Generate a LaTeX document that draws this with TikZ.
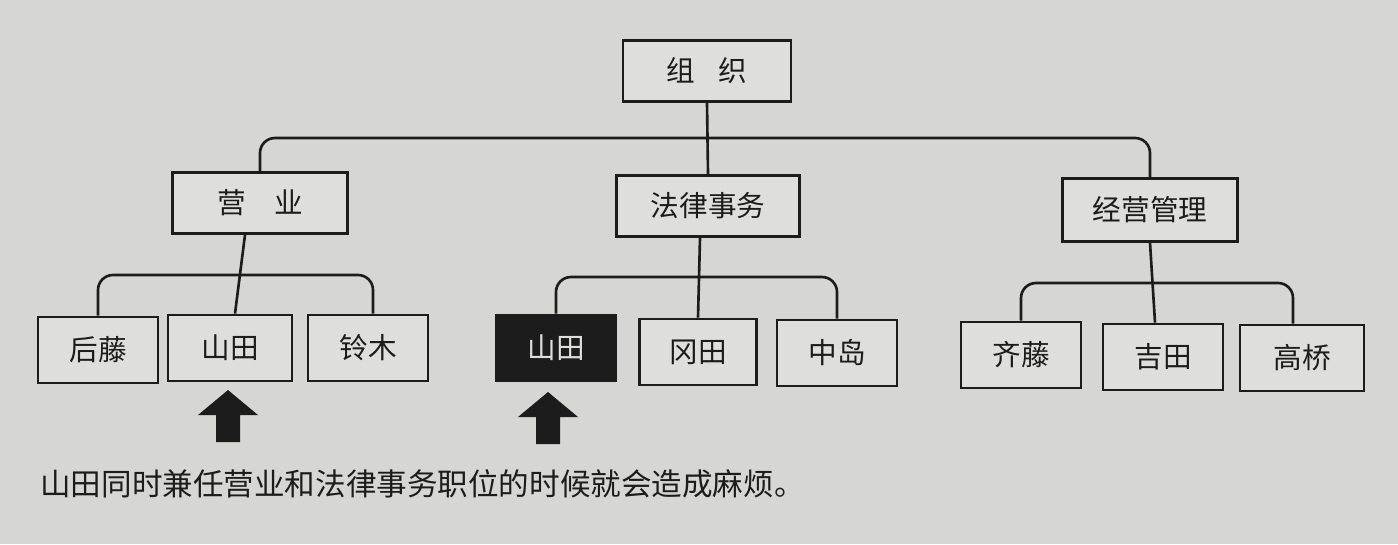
\documentclass[tikz,border=0pt]{standalone}
\usepackage{fontspec}
\newfontfamily\cjk{Noto Sans CJK SC}
\definecolor{paper}{RGB}{214,214,211}
\definecolor{boxfill}{RGB}{222,222,219}
\definecolor{ink}{RGB}{28,28,28}
\begin{document}
\begin{tikzpicture}[x=0.02cm,y=-0.02cm,
  box/.style={draw=ink, line width=1.6pt, fill=boxfill, inner sep=0pt,
    minimum height=1.22cm, text=ink, font=\cjk\fontsize{16.3}{16.3}\selectfont},
  leaf/.style={box, minimum width=2.4cm, minimum height=1.32cm},
  hot/.style={leaf, fill=ink, text=boxfill},
  conn/.style={draw=ink, line width=1.5pt, rounded corners=0.3cm},
  uparrow/.style={fill=ink, draw=none}]
\fill[paper] (0,0) rectangle (1398,544);
\useasboundingbox (0,0) rectangle (1398,544);
% top level
\node[box, minimum width=3.36cm] (org) at (707,71) {组\hspace{0.8em}织};
\node[box, minimum width=3.5cm] (sales) at (260,203) {营　业};
\node[box, minimum width=3.66cm] (legal) at (708,206) {法律事务};
\node[box, minimum width=3.5cm, minimum height=1.26cm] (mgmt) at (1150,210) {经营管理};
% leaves
\node[leaf] (goto) at (98,350) {后藤};
\node[leaf, minimum width=2.48cm] (yam1) at (230,348) {山田};
\node[leaf] (suzuki) at (368,348) {铃木};
\node[hot] (yam2) at (556,348) {山田};
\node[leaf, minimum width=2.34cm] (okada) at (698,352) {冈田};
\node[leaf] (naka) at (837,353) {中岛};
\node[leaf] (saito) at (1021,355) {齐藤};
\node[leaf] (yoshida) at (1163,357) {吉田};
\node[leaf, minimum width=2.48cm] (taka) at (1302,358) {高桥};
% bar coordinates
\coordinate (bar0) at (0,138);
\coordinate (bar1) at (0,275);
\coordinate (bar2) at (0,277);
\coordinate (bar3) at (0,283);
% connectors
\draw[conn] (org.south) -- (legal.north);
\draw[conn] (sales.north) -- (sales.north |- bar0) -- (mgmt.north |- bar0) -- (mgmt.north);
\draw[conn] ([xshift=-0.3cm]sales.south) -- ([xshift=0.1cm]yam1.north);
\draw[conn] (goto.north) -- (goto.north |- bar1) -- ([xshift=0.1cm]suzuki.north |- bar1) -- ([xshift=0.1cm]suzuki.north);
\draw[conn] ([xshift=-0.16cm]legal.south) -- (okada.north);
\draw[conn] (yam2.north) -- (yam2.north |- bar2) -- (naka.north |- bar2) -- (naka.north);
\draw[conn] (mgmt.south) -- ([xshift=-0.16cm]yoshida.north);
\draw[conn] (saito.north) -- (saito.north |- bar3) -- ([xshift=-0.18cm]taka.north |- bar3) -- ([xshift=-0.18cm]taka.north);
% block arrows
\coordinate (a1) at (228,390);
\coordinate (a2) at (548,392);
\foreach \c in {a1,a2}{
  \fill[uparrow] (\c) -- ++(30,25) -- ++(-18,0) -- ++(0,27) -- ++(-24,0) -- ++(0,-27) -- ++(-18,0) -- cycle;
}
% caption
\node[anchor=west, inner sep=0pt, text=ink, font=\cjk\fontsize{17.4}{17.4}\selectfont] (cap) at (40,484)
  {山田同时兼任营业和法律事务职位的时候就会造成麻烦。};
\end{tikzpicture}
\end{document}
